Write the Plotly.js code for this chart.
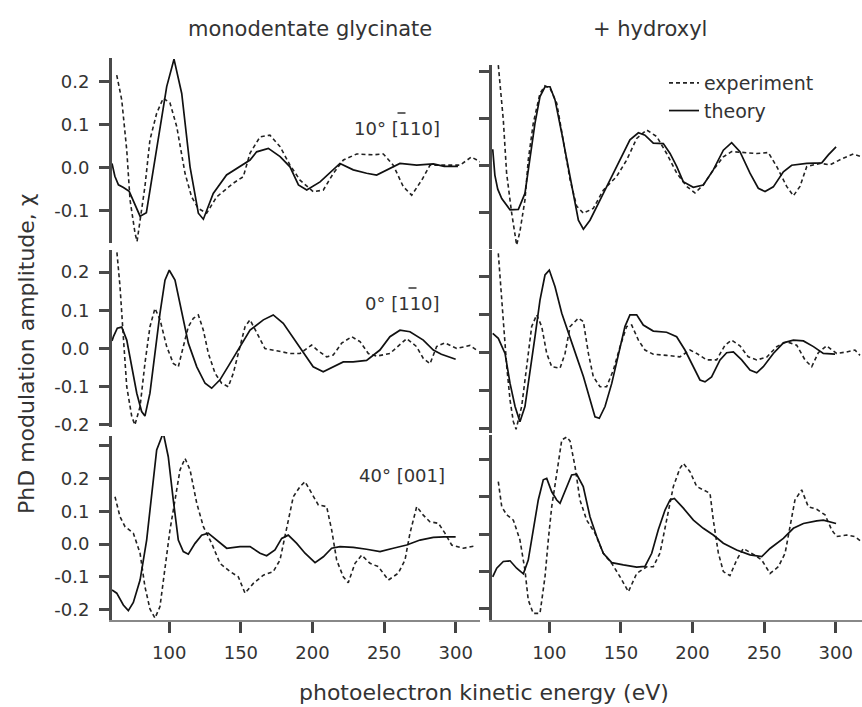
<!DOCTYPE html>
<html><head><meta charset="utf-8">
<script src="https://cdn.plot.ly/plotly-3.0.1.min.js"></script>
<style>body{margin:0;background:#fff}#plot{width:862px;height:707px}</style>
</head><body><div id="plot"></div>
<script>
// ---- data (photoelectron kinetic energy in eV, PhD modulation amplitude chi) ----
// top row: 10° [-110]
const tlTheoryE = [60,62,64.5,68,72,76,79.6,84,91.2,98.2,103.3,108.7,114.5,120.3,123.8,130.7,140,149.4,156.4,161,169.2,177.4,184.3,190.2,196,205.3,214.5,219.2,228.5,237.8,244.8,251.8,261.1,272.8,284.4,292,301.6];
const tlTheoryChi = [0.01,-0.02,-0.04,-0.046,-0.055,-0.085,-0.113,-0.105,0.041,0.189,0.253,0.173,0.002,-0.106,-0.12,-0.06,-0.017,0.002,0.018,0.037,0.045,0.026,0.002,-0.04,-0.052,-0.033,-0.005,0.01,-0.005,-0.013,-0.017,-0.005,0.01,0.006,0.009,0.003,0.003];
const tlExpE = [63.3,66.8,70.3,72.6,76.1,77.5,83,86.5,91.2,95.8,100.5,105.2,111,115.6,120.3,126.1,133.1,144.7,151.7,156.4,163.4,170.3,177.4,184.3,191.3,200.6,207.6,214.6,221.6,230.9,242.5,249.5,256.4,263.4,269.3,276.3,282.1,292,303,311,317];
const tlExpChi = [0.216,0.158,0.041,-0.075,-0.153,-0.172,-0.044,0.065,0.127,0.162,0.151,0.096,-0.013,-0.068,-0.095,-0.106,-0.068,-0.036,-0.021,0.034,0.072,0.076,0.049,0.006,-0.029,-0.056,-0.052,-0.013,0.018,0.032,0.03,0.032,0.006,-0.044,-0.064,-0.029,0.006,0.006,0.006,0.025,0.014];
const trTheoryE = [60.5,62,64,66.8,72.6,78.4,83,86.5,90,93.5,97,100.5,104,108.7,113.3,116.8,120.3,123.8,128.4,135.4,142.4,149.4,156.3,162.2,166.8,172.6,179.6,184.3,189,193.5,200.5,207.5,214.5,221.5,227.3,233.1,240.1,245.9,250.6,256.4,263.4,269.2,279.7,290.2,294.8,300.2];
const trTheoryChi = [0.035,-0.02,-0.05,-0.07,-0.094,-0.093,-0.059,0.012,0.09,0.147,0.168,0.168,0.14,0.069,-0.002,-0.059,-0.116,-0.135,-0.116,-0.073,-0.03,0.012,0.055,0.07,0.065,0.048,0.047,0.026,-0.002,-0.034,-0.046,-0.041,-0.009,0.033,0.049,0.03,-0.016,-0.048,-0.055,-0.045,-0.013,0.001,0.005,0.006,0.023,0.04];
const trExpE = [64.4,66,67.9,70.2,73.7,77.2,79.5,83,85.3,88.8,93.5,97,100.5,105.2,109.8,114.5,119.1,123.8,130.7,137.7,147,154,161,168,175,181.9,189,195.9,201.7,207.5,214.5,221.5,227.3,235.4,244.8,252.9,258.8,265.7,270.4,275,279.7,289,296,305.2,312.3,318];
const trExpChi = [0.214,0.157,0.097,-0.016,-0.1,-0.169,-0.14,-0.073,0.012,0.09,0.154,0.17,0.165,0.133,0.055,-0.03,-0.086,-0.101,-0.091,-0.052,-0.023,0.012,0.058,0.076,0.062,0.026,-0.016,-0.044,-0.058,-0.041,-0.009,0.019,0.03,0.028,0.026,0.028,-0.002,-0.044,-0.064,-0.044,-0.002,0.005,0.002,0.016,0.025,0.019];
// middle row: 0° [-110]
const mlTheoryE = [60,61,63.7,66.8,70.3,73.8,77.3,80.7,83,86.5,90,93.5,97,100,104,108.7,113.3,119.2,125,129.6,135.4,142.4,149.4,156.4,165.7,172.6,179.6,186.6,193.6,200.5,207.5,214.5,221.5,228.4,237.8,247.1,254.1,261.1,268.1,277.4,284.4,290,300];
const mlTheoryChi = [0.02,0.031,0.053,0.056,0.022,-0.048,-0.117,-0.165,-0.177,-0.117,-0.013,0.092,0.179,0.205,0.179,0.092,0.014,-0.048,-0.091,-0.104,-0.082,-0.039,0.005,0.048,0.075,0.088,0.066,0.027,-0.013,-0.048,-0.061,-0.048,-0.035,-0.035,-0.031,-0.004,0.031,0.048,0.044,0.022,-0.004,-0.015,-0.028];
const mlExpE = [63,65.6,67.9,70.3,73.8,76,79.6,83,86.5,90,93.5,98.2,102.8,106.3,109.8,113.3,116.8,120.3,123.8,127.3,132,136.6,141.2,144.7,149.4,152.9,156.4,161,166.8,175,184.3,191.3,199.4,203.4,209.9,214.5,220.4,227.4,233.2,239,244.8,254.1,261.1,265.8,272.7,277.4,282.1,286.7,292.5,300.7,310,315.6];
const mlExpChi = [0.27,0.162,0.031,-0.1,-0.178,-0.2,-0.152,-0.039,0.057,0.105,0.076,0.005,-0.039,-0.048,0.005,0.057,0.079,0.088,0.048,-0.013,-0.065,-0.091,-0.1,-0.065,0.005,0.057,0.075,0.04,0.0,-0.006,-0.013,-0.013,0.009,-0.004,-0.022,-0.017,0.014,0.031,0.018,-0.013,-0.02,-0.013,0.009,0.026,0.005,-0.026,-0.04,0.005,0.015,0.0,0.008,-0.007];
const mrTheoryE = [60.5,64.4,69.1,72.6,76.1,79.5,83,86.5,90,93.5,97,100,104,108.7,113.3,119.1,123.8,128.4,131.9,134.9,138.9,143.6,148.2,152.8,156.3,161,165.6,172.6,181.9,188.9,194.7,200.5,205.2,208.7,213.3,219.2,223.8,228.5,234.3,240.1,244.8,249.4,256.4,263.4,270.4,277.4,284.4,291.3,299.5];
const mrTheoryChi = [0.051,0.038,-0.002,-0.081,-0.142,-0.182,-0.142,-0.054,0.042,0.139,0.205,0.218,0.174,0.104,0.051,-0.011,-0.063,-0.125,-0.169,-0.173,-0.142,-0.081,-0.002,0.069,0.1,0.1,0.073,0.057,0.054,0.042,0.007,-0.037,-0.072,-0.077,-0.064,-0.019,0.0,0.002,-0.019,-0.046,-0.053,-0.037,-0.002,0.026,0.033,0.031,0.016,-0.002,-0.004];
const mrExpE = [64.4,66.1,67.9,70.3,72.6,74.9,76.8,80.7,84.2,87.7,91.2,94.7,98.2,101.7,107.5,111,114.5,120.3,123.8,127.3,130.7,135.4,140,144.7,149.4,154,157.5,162.2,166.8,172.6,181.9,191.2,198.2,202.9,209.9,216.8,222.7,227.3,233.1,238.9,244.8,251.7,258.8,265.7,272.7,278.5,283.2,287.8,293.6,300.6,307.6,313.4,316.9];
const mrExpChi = [0.262,0.174,0.06,-0.037,-0.125,-0.182,-0.202,-0.142,-0.037,0.069,0.1,0.069,-0.002,-0.037,-0.041,-0.002,0.069,0.091,0.082,-0.002,-0.063,-0.09,-0.09,-0.046,0.016,0.069,0.073,0.033,0.007,-0.004,-0.007,-0.011,0.007,-0.002,-0.019,-0.019,0.02,0.033,0.018,-0.011,-0.019,-0.012,0.016,0.029,0.02,-0.019,-0.037,0.0,0.018,-0.002,0.002,0.007,-0.007];
// bottom row: 40° [001]
const blTheoryE = [60,63.3,67.9,71.4,74.9,79.6,84.2,87.7,91.2,95.8,99.3,102.8,106.3,109.8,113.3,118,122.6,127.2,133.1,140.1,149.4,156.4,163.4,168,173.8,178.5,183.1,189,194.8,201.8,207.6,213.4,219.2,228.5,237.8,247.2,256.4,265.8,275.1,284.4,292,300];
const blTheoryChi = [-0.14,-0.15,-0.186,-0.203,-0.178,-0.11,0.012,0.144,0.287,0.339,0.266,0.134,0.012,-0.023,-0.031,0.002,0.027,0.033,0.012,-0.013,-0.008,-0.008,-0.028,-0.036,-0.018,0.017,0.027,0.002,-0.028,-0.057,-0.039,-0.013,-0.008,-0.01,-0.016,-0.023,-0.013,-0.003,0.012,0.02,0.022,0.022];
const blExpE = [62.1,65.6,69.1,74.9,79.6,83,86.5,90,93.5,97,100.5,104,107.5,111,114.5,119.2,123.8,129.6,135.4,142.4,148.2,152.9,158.7,165.7,172.6,177.3,182,186.6,191.3,194.8,199.4,204.1,209.9,213.4,216.9,221.5,225,229.7,234.4,240.2,246,253,259.9,264.6,268.1,272.8,277.4,282,288,292.5,297.2,305.3,313.5];
const blExpChi = [0.144,0.083,0.053,0.033,-0.028,-0.13,-0.198,-0.226,-0.191,-0.079,0.043,0.134,0.226,0.261,0.226,0.124,0.053,0.002,-0.059,-0.084,-0.1,-0.15,-0.12,-0.095,-0.084,-0.049,0.053,0.144,0.175,0.19,0.155,0.119,0.114,0.043,-0.049,-0.1,-0.118,-0.059,-0.034,-0.059,-0.069,-0.11,-0.089,-0.049,0.033,0.114,0.088,0.068,0.063,0.033,-0.003,-0.013,-0.006];
const brTheoryE = [60.5,63.3,67.9,72.6,77.2,81.9,85.3,88.8,92.3,95.8,98.2,101.7,105.2,107.5,111,115.6,119.1,123.7,128.4,133.1,137.7,143.6,151.7,161,166.8,171.5,176.1,180.8,184.3,187.3,193.6,200.6,207.5,214.5,221.5,230.8,240.1,248.3,254.1,263.4,270.4,277.4,286.7,291.3,300.2];
const brTheoryChi = [-0.114,-0.091,-0.073,-0.071,-0.091,-0.106,-0.069,0.012,0.092,0.146,0.15,0.114,0.092,0.083,0.114,0.159,0.161,0.128,0.047,-0.006,-0.051,-0.076,-0.082,-0.088,-0.086,-0.051,0.012,0.065,0.092,0.096,0.07,0.038,0.016,-0.002,-0.024,-0.042,-0.055,-0.06,-0.038,-0.011,0.016,0.029,0.036,0.038,0.029];
const brExpE = [64.4,66.8,70.3,74.9,79.5,83,85.3,88.8,93.5,97,99.3,101.7,105.2,108.7,112.2,114.5,118,121.4,126.1,131.9,137.7,143.6,149.4,155.2,161,168,172.6,177.3,181.9,186.6,191.2,193.6,198.2,202.9,207.5,212.2,214.5,218,221.5,226.1,230.8,235.4,241.3,248.3,254.1,259.9,264.6,268,271.5,276.2,280.8,286.7,292.5,297.1,300.6,307.6,313.4,318];
const brExpChi = [0.141,0.074,0.052,0.038,-0.015,-0.096,-0.176,-0.212,-0.212,-0.114,-0.015,0.074,0.163,0.253,0.261,0.25,0.181,0.092,0.038,0.003,-0.051,-0.078,-0.114,-0.154,-0.105,-0.087,-0.087,-0.05,0.038,0.128,0.177,0.19,0.168,0.128,0.119,0.11,0.038,-0.05,-0.1,-0.111,-0.069,-0.038,-0.051,-0.069,-0.105,-0.087,-0.051,0.021,0.092,0.119,0.074,0.067,0.052,0.012,-0.006,-0.002,-0.006,-0.02];

// tick labels
const xTickVals = [100,150,200,250,300];
const xTickText = ['100','150','200','250','300'];
const yTicksTop = [0.2,0.1,0,-0.1];
const yTextTop = ['0.2','0.1','0.0','-0.1'];
const yTicksMid = [0.2,0.1,0,-0.1,-0.2];
const yTextMid = ['0.2','0.1','0.0','-0.1','-0.2'];
const yTicksBot = [0.3,0.2,0.1,0,-0.1,-0.2];
const yTextBot = ['','0.2','0.1','0.0','-0.1','-0.2'];

const columnTitles = ['monodentate glycinate','+ hydroxyl'];
const panelLabels = ['10° [110]','0° [110]','40° [001]'];
const seriesNames = ['experiment','theory'];

// ---- drawing ----
const W = 862, H = 707;
const px = v => v / W, py = v => 1 - v / H;
const FONT = 'DejaVu Sans';
const TXT = '#333';

const panels = [
  {ax:'', thE:tlTheoryE, thY:tlTheoryChi, exE:tlExpE, exY:tlExpChi},
  {ax:'2', thE:trTheoryE, thY:trTheoryChi, exE:trExpE, exY:trExpChi},
  {ax:'3', thE:mlTheoryE, thY:mlTheoryChi, exE:mlExpE, exY:mlExpChi},
  {ax:'4', thE:mrTheoryE, thY:mrTheoryChi, exE:mrExpE, exY:mrExpChi},
  {ax:'5', thE:blTheoryE, thY:blTheoryChi, exE:blExpE, exY:blExpChi},
  {ax:'6', thE:brTheoryE, thY:brTheoryChi, exE:brExpE, exY:brExpChi}
];

const traces = [];
panels.forEach((p,i) => {
  traces.push({x:p.exE, y:p.exY, xaxis:'x'+p.ax, yaxis:'y'+p.ax, type:'scatter', mode:'lines',
    name:seriesNames[0], showlegend:i===0, line:{color:'#222', width:1.6, dash:'4px,3px'}});
  traces.push({x:p.thE, y:p.thY, xaxis:'x'+p.ax, yaxis:'y'+p.ax, type:'scatter', mode:'lines',
    name:seriesNames[1], showlegend:i===0, line:{color:'#111', width:1.7}});
});

// geometry (pixel positions in the figure)
const colX = [[112,480],[492,862]];
const rowsY = [
  {L:[57.5,243.3], R:[65,249.3]},
  {L:[250,427], R:[250,433.3]},
  {L:[436,620], R:[435,620]}
];
const yRanges = [
  [-0.1762,0.2569],[-0.1779,0.2143],
  [-0.2055,0.2579],[-0.2127,0.271],
  [-0.2317,0.3293],[-0.2298,0.2662]
];
const xRanges = [[60,317],[60,318.3]];
const yTicks = [[yTicksTop,yTextTop],[yTicksTop,yTextTop],[yTicksMid,yTextMid],[yTicksMid,yTextMid],[yTicksBot,yTextBot],[yTicksMid,yTextMid]];

const layout = {
  width:W, height:H, margin:{l:0,r:0,t:0,b:0},
  paper_bgcolor:'#fff', plot_bgcolor:'rgba(0,0,0,0)',
  font:{family:FONT, color:TXT},
  showlegend:true,
  legend:{x:px(664), y:py(64), xanchor:'left', yanchor:'top', bgcolor:'rgba(0,0,0,0)',
    font:{family:FONT, size:19, color:TXT}, itemwidth:30, tracegroupgap:0},
  annotations:[], shapes:[]
};

for (let i=0;i<6;i++){
  const col = i%2, row = Math.floor(i/2);
  const ax = i===0 ? '' : String(i+1);
  const yPix = col===0 ? rowsY[row].L : rowsY[row].R;
  const isBottom = row===2;
  layout['xaxis'+ax] = {
    domain:[px(colX[col][0]), px(colX[col][1])], range:xRanges[col], anchor:'y'+ax,
    showgrid:false, zeroline:false,
    visible:isBottom, showline:isBottom, linecolor:'#888', linewidth:1.5,
    ticks:isBottom?'outside':'', ticklen:11, tickwidth:3, tickcolor:'#444',
    tickmode:'array', tickvals:xTickVals, ticktext:xTickText, ticklabelstandoff:5,
    tickfont:{family:FONT, size:18, color:TXT}, fixedrange:true
  };
  layout['yaxis'+ax] = {
    domain:[py(yPix[1]), py(yPix[0])], range:yRanges[i], anchor:'x'+ax,
    showgrid:false, zeroline:false, showline:true, linecolor:'#4a4a4a', linewidth:3,
    ticks:'outside', ticklen:10, tickwidth:3, tickcolor:'#4a4a4a',
    tickmode:'array', tickvals:yTicks[i][0], ticktext:yTicks[i][1],
    showticklabels:col===0, ticklabelstandoff:6,
    tickfont:{family:FONT, size:18, color:TXT}, fixedrange:true
  };
}

const ann = (text,x,y,opts={}) => Object.assign({text, x:px(x), y:py(y), xref:'paper', yref:'paper',
  showarrow:false, font:{family:FONT, size:18, color:TXT}}, opts);

layout.annotations.push(ann(columnTitles[0],310,29,{xanchor:'center',yanchor:'middle',font:{family:FONT,size:21,color:TXT}}));
layout.annotations.push(ann(columnTitles[1],650,29,{xanchor:'center',yanchor:'middle',font:{family:FONT,size:21,color:TXT}}));
const labelPos = [[352,128],[363,303],[357,475]];
labelPos.forEach((p,k) => layout.annotations.push(ann(panelLabels[k],p[0],p[1],{xanchor:'left',yanchor:'middle'})));
// overbar on the first index of [-110] (crystallographic notation)
[0,1].forEach(k => {
  const x0 = labelPos[k][0] + 45.5, y0 = labelPos[k][1] - 15;
  layout.shapes.push({type:'line', xref:'paper', yref:'paper', x0:px(x0), x1:px(x0+8), y0:py(y0), y1:py(y0),
    line:{color:TXT, width:1.5}});
});
layout.annotations.push(ann('photoelectron kinetic energy (eV)',484,692,{xanchor:'center',yanchor:'middle',font:{family:FONT,size:22,color:TXT}}));
layout.annotations.push(ann('PhD modulation amplitude, χ',26,354,{xanchor:'center',yanchor:'middle',textangle:-90,font:{family:FONT,size:22,color:TXT}}));

Plotly.newPlot('plot', traces, layout, {staticPlot:true, displayModeBar:false});
</script>
</body></html>
